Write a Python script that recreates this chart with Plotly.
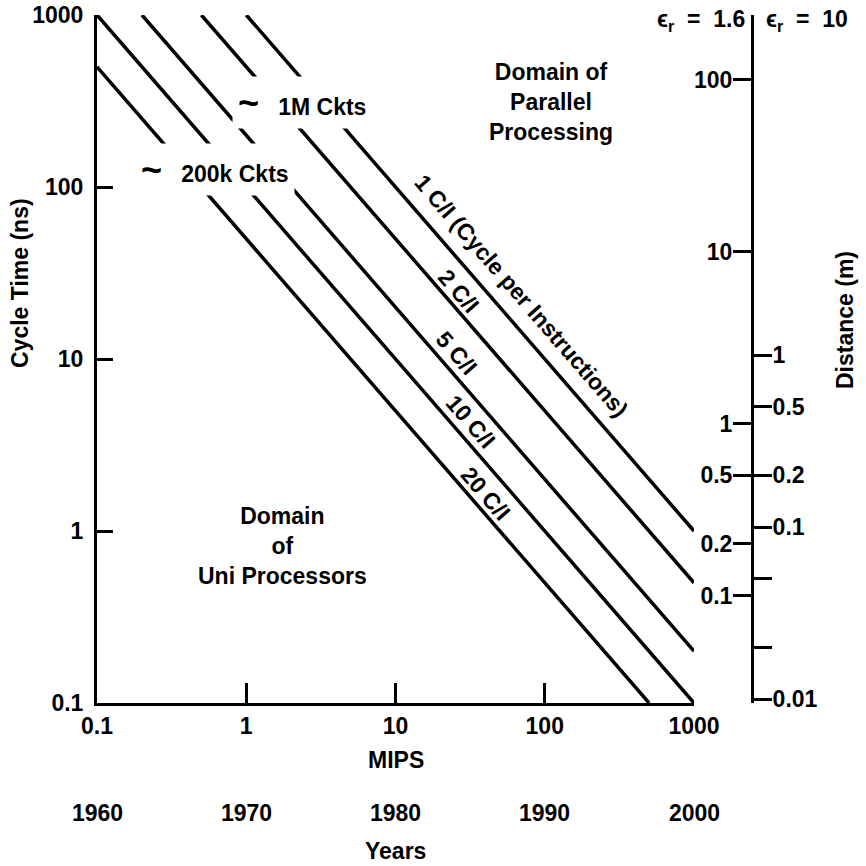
import numpy as np
import plotly.graph_objects as go

# Cycle-time lines for different cycles per instruction (C/I):
# each line runs between a start and an end point (MIPS, cycle time in ns)
line_labels = ["1 C/I (Cycle per Instructions)", "2 C/I", "5 C/I", "10 C/I", "20 C/I"]
mips_start = [1, 0.5, 0.2, 0.1, 0.1]
mips_end = [1000, 1000, 1000, 1000, 500]
cycle_start = [1000, 1000, 1000, 1000, 500]
cycle_end = [1, 0.5, 0.2, 0.1, 0.1]

# Axis ticks
mips_ticks = [0.1, 1, 10, 100, 1000]
mips_ticktext = ["0.1", "1", "10", "100", "1000"]
years = ["1960", "1970", "1980", "1990", "2000"]
cycle_ticks = [0.1, 1, 10, 100, 1000]
cycle_ticktext = ["0.1", "1", "10", "100", "1000"]

# Distance a signal travels in one cycle, for two dielectric constants
eps_r = [1.6, 10]
dist_ticks_low = [100, 10, 1, 0.5, 0.2, 0.1]
dist_text_low = ["100", "10", "1", "0.5", "0.2", "0.1"]
dist_ticks_high = [1, 0.5, 0.2, 0.1, 0.01]
dist_text_high = ["1", "0.5", "0.2", "0.1", "0.01"]
dist_minor_high = [0.05, 0.02]
LIGHT_M_PER_NS = 0.2998

# ---- layout geometry (pixels) ----
W, H = 866, 866
PX_L, PX_R = 97, 694        # MIPS 0.1 .. 1000
PX_T, PX_B = 15, 703        # cycle 1000 .. 0.1
PX_DIST = 752               # distance scale
ML, MR, MT, MB = PX_L, W - PX_DIST, PX_T, H - PX_B
PW, PH = W - ML - MR, H - MT - MB

def paper_x(px):
    return (px - ML) / PW

def paper_y(py):
    return (H - MB - py) / PH

FONT = "Liberation Sans, Arial, Helvetica, sans-serif"
BLACK = "#000000"
LW = 3.5

fig = go.Figure()

for lab, m0, m1, c0, c1 in zip(line_labels, mips_start, mips_end, cycle_start, cycle_end):
    fig.add_trace(go.Scatter(
        x=[m0, m1], y=[c0, c1], mode="lines", name=lab,
        line=dict(color=BLACK, width=LW), showlegend=False, hoverinfo="skip",
    ))

# placeholder traces so the distance axes are drawn
fig.add_trace(go.Scatter(x=[None], y=[None], yaxis="y2", showlegend=False, hoverinfo="skip"))
fig.add_trace(go.Scatter(x=[None], y=[None], yaxis="y3", showlegend=False, hoverinfo="skip"))

cyc_log = [np.log10(min(cycle_ticks)), np.log10(max(cycle_ticks))]
v_low = LIGHT_M_PER_NS / np.sqrt(eps_r[0])
v_high = LIGHT_M_PER_NS / np.sqrt(eps_r[1])

tickfont = dict(family=FONT, size=23, color=BLACK, weight="bold")
common = dict(showgrid=False, zeroline=False, showline=True, linecolor=BLACK,
              linewidth=3, tickwidth=3, tickcolor=BLACK, tickfont=tickfont,
              automargin=False)

fig.update_layout(
    width=W, height=H,
    margin=dict(l=ML, r=MR, t=MT, b=MB, pad=0, autoexpand=False),
    paper_bgcolor="white", plot_bgcolor="white",
    xaxis=dict(
        type="log", range=[-1, 3], domain=[0, (PX_R - PX_L) / PW],
        ticks="inside", ticklen=20,
        tickvals=mips_ticks, ticktext=mips_ticktext, ticklabelstandoff=0, **common,
    ),
    yaxis=dict(
        type="log", range=cyc_log,
        ticks="inside", ticklen=16,
        tickvals=cycle_ticks, ticktext=cycle_ticktext, ticklabelstandoff=6, **common,
    ),
    yaxis2=dict(
        type="log", overlaying="y", anchor="free", position=1, side="left",
        range=[cyc_log[0] + np.log10(v_low), cyc_log[1] + np.log10(v_low)],
        ticks="outside", ticklen=18,
        tickvals=dist_ticks_low, ticktext=dist_text_low, ticklabelstandoff=-4, **common,
    ),
    yaxis3=dict(
        type="log", overlaying="y", anchor="free", position=1, side="right",
        range=[cyc_log[0] + np.log10(v_high), cyc_log[1] + np.log10(v_high)],
        ticks="outside", ticklen=18,
        tickvals=dist_ticks_high, ticktext=dist_text_high, ticklabelstandoff=-4,
        minor=dict(tickvals=dist_minor_high, ticks="outside", ticklen=18,
                   tickwidth=3, tickcolor=BLACK, showgrid=False),
        **common,
    ),
)

txt = dict(family=FONT, size=23, color=BLACK, weight="bold")
centered = dict(showarrow=False, font=txt, xanchor="center", yanchor="middle")

# C/I labels along the lines (slope of the lines on screen)
angle = float(np.degrees(np.arctan((PX_B - PX_T) / 4 / ((PX_R - PX_L) / 4))))
label_pos = [(69.8, 23.1), (26.4, 24.7), (25.6, 10.8), (31.6, 4.34), (39.8, 1.66)]
for lab, (mx, cy) in zip(line_labels, label_pos):
    fig.add_annotation(x=np.log10(mx), y=np.log10(cy), xref="x", yref="y",
                       text=lab, textangle=angle, **centered)

# circuit-count labels, drawn over the lines
tilde = "<span style='font-size:36px'>~</span>\u00a0\u00a0\u00a0"
fig.add_annotation(x=np.log10(2.35), y=np.log10(312), xref="x", yref="y",
                   text=tilde + "1M Ckts", bgcolor="white", borderpad=5, **centered)
fig.add_annotation(x=np.log10(0.62), y=np.log10(125.6), xref="x", yref="y",
                   text=tilde + "200k Ckts", bgcolor="white", borderpad=5, **centered)

# domain labels
fig.add_annotation(x=paper_x(551), y=paper_y(102), xref="paper", yref="paper",
                   text="Domain of<br>Parallel<br>Processing", **centered)
fig.add_annotation(x=paper_x(282), y=paper_y(546), xref="paper", yref="paper",
                   text="Domain<br>of<br>Uni Processors", **centered)

# axis titles
fig.add_annotation(x=paper_x(20), y=paper_y(283), xref="paper", yref="paper",
                   text="Cycle Time (ns)", textangle=-90, **centered)
fig.add_annotation(x=paper_x(845), y=paper_y(320), xref="paper", yref="paper",
                   text="Distance (m)", textangle=-90, **centered)
fig.add_annotation(x=np.log10(10), y=paper_y(760), xref="x", yref="paper",
                   text="MIPS", **centered)
fig.add_annotation(x=np.log10(10), y=paper_y(851), xref="x", yref="paper",
                   text="Years", **centered)

# year row under the MIPS ticks
for m, yr in zip(mips_ticks, years):
    fig.add_annotation(x=np.log10(m), y=paper_y(813), xref="x", yref="paper",
                       text=yr, **centered)

# dielectric constants above the distance scale
nb = "\u00a0\u00a0"
fig.add_annotation(x=paper_x(747), y=paper_y(20), xref="paper", yref="paper",
                   xanchor="right", yanchor="middle", showarrow=False, font=txt,
                   text=f"ϵ<sub>r</sub>{nb}={nb}{eps_r[0]}")
fig.add_annotation(x=paper_x(764), y=paper_y(20), xref="paper", yref="paper",
                   xanchor="left", yanchor="middle", showarrow=False, font=txt,
                   text=f"ϵ<sub>r</sub>{nb}={nb}{eps_r[1]}")

fig.write_html("out.html")
